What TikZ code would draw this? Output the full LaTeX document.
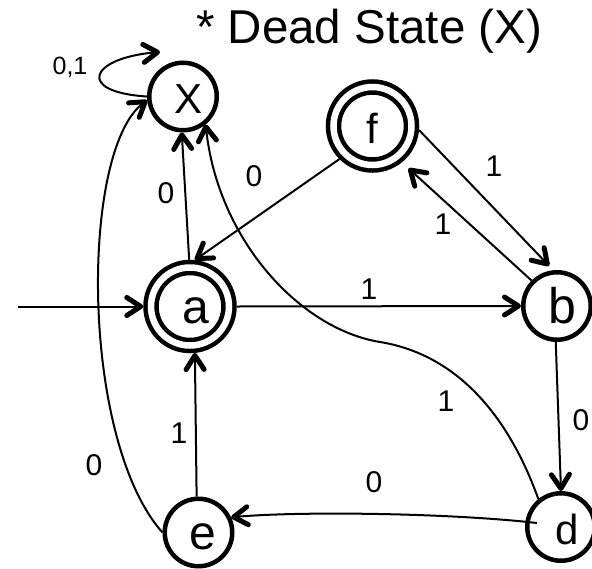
\documentclass[tikz,border=0pt]{standalone}
\usepackage{fontspec}
\setmainfont{Liberation Sans}
\usetikzlibrary{arrows.meta}

\begin{document}
\begin{tikzpicture}[x=1pt,y=-1pt,
  every node/.style={inner sep=0pt},
  state/.style={circle, draw, line width=4.5pt, minimum size=67.5pt,
    outer sep=2.25pt, text height=34pt, text depth=0pt},
  accept/.style={circle, draw, line width=4.5pt, double, double distance=6.5pt,
    minimum size=78pt, outer sep=7.75pt, text height=34pt, text depth=0pt},
  conn/.style={line width=2pt,
    -{Straight Barb[length=14pt,width=18pt,line width=5pt,round]}},
  lbl/.style={font=\fontsize{30}{30}\selectfont, text depth=0pt},
]
\useasboundingbox (0,0) rectangle (592,568);

% title
\node[anchor=base west, font=\fontsize{47.5}{47.5}\selectfont] (title) at (196,43) {* Dead State (X)};

% states
\node[state,  font=\fontsize{42}{42}\selectfont] (X) at (183,96.5)   {\hspace*{12pt}X};
\node[accept, font=\fontsize{42}{42}\selectfont] (f) at (372.5,126)  {f};
\node[accept, font=\fontsize{48}{48}\selectfont] (a) at (190,306.5)  {\hspace*{12pt}a};
\node[state,  font=\fontsize{50}{50}\selectfont] (b) at (557,306)    {\hspace*{10pt}b};
\node[state,  font=\fontsize{42}{42}\selectfont] (d) at (561,527)    {\hspace*{12pt}d};
\node[state,  font=\fontsize{48}{48}\selectfont] (e) at (198.5,532.5){\hspace*{9pt}e};

% free ends and waypoints
\coordinate (s0) at (18,306.5);
\coordinate (loopend) at (160,52);
\coordinate (m1) at (380,342);
\coordinate (dIn) at (537,523);

% transitions
\draw[conn] (s0) -- (a.180);
\draw[conn] (a.91) -- (X.268);
\draw[conn] (a.0) -- (b.180);
\draw[conn] (f.225) -- (a.84);
\draw[conn, shorten >=6pt] (f.-5) -- (b.96);
\draw[conn, shorten >=9pt] (b.135) -- (f.-51);
\draw[conn] (b.268) -- (d.90);
\draw[conn] (e.93) -- (a.-84);
\draw[conn] (X.180) .. controls (75,92) and (90,58) .. (loopend);
\draw[conn] (e.180) .. controls (80,440) and (80,150) .. (X.186);
\draw[conn] (d.129) .. controls (510,420) and (460,355) .. (m1)
            .. controls (300,329) and (218,240) .. (X.-51);
\draw[conn] (dIn) .. controls (450,513) and (300,511) .. (e.25);

% transition labels
\node[lbl, font=\fontsize{25}{25}\selectfont] (l01) at (70,66) {0,1};
\node[lbl] (laX) at (166,193) {0};
\node[lbl] (lfa) at (254,176) {0};
\node[lbl] (lab) at (369,289) {1};
\node[lbl] (lfb) at (494,166) {1};
\node[lbl] (lbf) at (443,224) {1};
\node[lbl] (ldX) at (446,401) {1};
\node[lbl] (lbd) at (581,420) {0};
\node[lbl] (lde) at (374,482) {0};
\node[lbl] (lea) at (179,433) {1};
\node[lbl] (leX) at (94,465) {0};
\end{tikzpicture}
\end{document}
